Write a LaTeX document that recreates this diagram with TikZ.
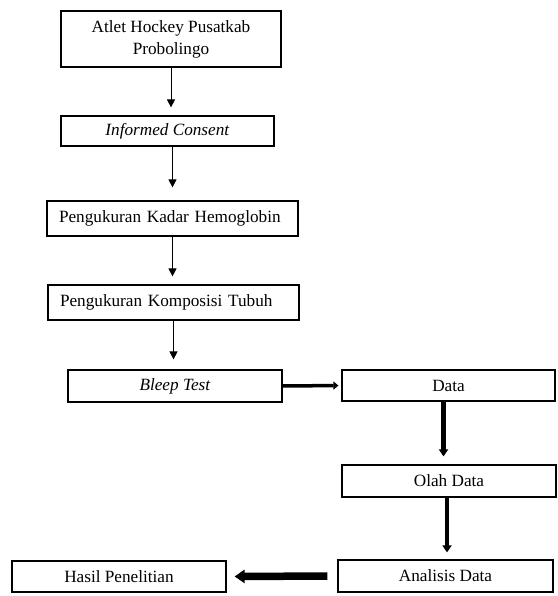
\documentclass[tikz,border=0pt]{standalone}
\usepackage{fontspec}
\setmainfont{Liberation Serif}
\usetikzlibrary{arrows.meta}
\begin{document}
\begin{tikzpicture}[x=1pt,y=-1pt,
  box/.style = {draw, line width=1.2pt, inner sep=0pt, align=center, font=\fontsize{17.2}{22}\selectfont},
  leftbox/.style = {box, align=left, text width=227pt, inner xsep=12pt, minimum height=35pt},
  flow/.style = {line width=0.9pt, -{Triangle[width=8pt,length=8pt]}},
  midflow/.style = {line width=3.5pt, -{Triangle[width=8pt,length=5pt]}},
  bigflow/.style = {line width=4.5pt, -{Triangle[width=9pt,length=7pt]}},
  hugeflow/.style = {line width=7.5pt, -{Triangle[width=13pt,length=10pt]}}]
\useasboundingbox (0,0) rectangle (557,596);
\node[box, minimum width=220pt, minimum height=56pt] (atlet) at (171,39) {Atlet Hockey Pusatkab\\Probolingo};
\node[box, minimum width=213pt, minimum height=30pt] (consent) at (167.5,131) {\textit{Informed Consent}};
\node[leftbox] (hb) at (172.5,218.5) {Pengukuran Kadar Hemoglobin};
\node[leftbox] (komp) at (173.5,302.5) {Pengukuran Komposisi Tubuh};
\node[box, minimum width=214pt, minimum height=32pt] (bleep) at (175,386) {\textit{Bleep Test}};
\node[box, minimum width=213pt, minimum height=31pt] (data) at (448.5,385.5) {Data};
\node[box, minimum width=214pt, minimum height=32pt] (olah) at (449,481) {Olah Data};
\node[box, minimum width=215pt, minimum height=32pt] (analisis) at (445.5,576) {Analisis Data};
\node[box, minimum width=214pt, minimum height=31pt] (hasil) at (119,576.5) {Hasil Penelitian};
\draw[flow, shorten >=8pt] (atlet.south) -- (atlet.south |- consent.north);
\draw[flow, shorten >=13pt] (hb.north |- consent.south) -- (hb.north);
\draw[flow, shorten >=8pt] (hb.south) -- (hb.south |- komp.north);
\draw[flow, shorten >=10pt] (komp.south) -- (komp.south |- bleep.north);
\draw[midflow, shorten >=3pt] (bleep.east) -- (data.west);
\draw[bigflow, shorten >=8pt] ([xshift=-5pt]data.south) -- ([xshift=-5pt]data.south |- olah.north);
\draw[bigflow, shorten >=7pt] ([xshift=-2pt]olah.south) -- ([xshift=-2pt]olah.south |- analisis.north);
\draw[hugeflow, shorten <=10pt, shorten >=8pt] (analisis.west) -- (hasil.east);
\end{tikzpicture}
\end{document}
